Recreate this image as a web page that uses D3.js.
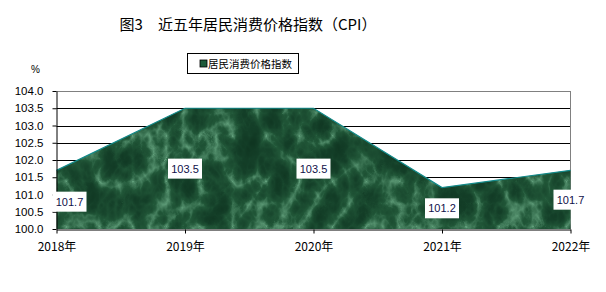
<!DOCTYPE html>
<html>
<head>
<meta charset="utf-8">
<script src="https://cdn.jsdelivr.net/npm/d3@7"></script>
<style>
  body { margin: 0; background: #fff; }
  svg { display: block; }
</style>
</head>
<body>
<svg id="chart" width="606" height="292"></svg>
<script>
// chart data
const years = ['2018年', '2019年', '2020年', '2021年', '2022年'];
const cpi = [101.7, 103.5, 103.5, 101.2, 101.7];
const yTicks = [100.0, 100.5, 101.0, 101.5, 102.0, 102.5, 103.0, 103.5, 104.0];
const titleText = '图3\u3000近五年居民消费价格指数（CPI）';
const seriesName = '居民消费价格指数';

const svg = d3.select('#chart');
const cjk = "'Noto Sans CJK SC', sans-serif";
const num = "'Liberation Sans', Arial, sans-serif";

const plotL = 56.5, plotR = 570.5, plotT = 91, plotB = 229;

const x = d3.scalePoint().domain(years).range([plotL, plotR]);
const y = d3.scaleLinear().domain([100, 104]).range([plotB, plotT]);

// marble texture for the area: dark green with light veins
const defs = svg.append('defs');
const f = defs.append('filter').attr('id', 'marble')
    .attr('color-interpolation-filters', 'sRGB')
    .attr('x', 0).attr('y', 0).attr('width', 1).attr('height', 1);
f.append('feTurbulence')
    .attr('type', 'turbulence')
    .attr('baseFrequency', '0.03 0.022')
    .attr('numOctaves', 4)
    .attr('seed', 7)
    .attr('result', 'noise');
f.append('feColorMatrix')
    .attr('in', 'noise')
    .attr('type', 'matrix')
    .attr('values',
        '1 0 0 0 0 ' +
        '1 0 0 0 0 ' +
        '1 0 0 0 0 ' +
        '0 0 0 0 1')
    .attr('result', 'gray');
const ct = f.append('feComponentTransfer').attr('in', 'gray').attr('result', 'col');
ct.append('feFuncR').attr('type', 'table').attr('tableValues', '0.38 0.13 0.08 0.06 0.05');
ct.append('feFuncG').attr('type', 'table').attr('tableValues', '0.62 0.34 0.25 0.21 0.19');
ct.append('feFuncB').attr('type', 'table').attr('tableValues', '0.48 0.22 0.16 0.13 0.12');
f.append('feComposite').attr('in', 'col').attr('in2', 'SourceGraphic').attr('operator', 'in');

// title
svg.append('text')
    .attr('x', 248).attr('y', 30)
    .attr('text-anchor', 'middle')
    .style('font-family', cjk)
    .style('font-size', '15px')
    .text(titleText);

// legend
const lg = svg.append('g');
lg.append('rect').attr('x', 187.5).attr('y', 53.5).attr('width', 111).attr('height', 20)
    .attr('fill', '#fff').attr('stroke', '#000');
lg.append('rect').attr('x', 200).attr('y', 60).attr('width', 7).attr('height', 7)
    .attr('fill', '#1d5a3a').attr('stroke', '#000').attr('stroke-width', 0.8);
lg.append('text').attr('x', 208).attr('y', 68)
    .style('font-family', cjk).style('font-size', '10.5px')
    .text(seriesName);

// unit
svg.append('text').attr('x', 31).attr('y', 73)
    .style('font-family', num).style('font-size', '10px').text('%');

// gridlines
svg.append('g').selectAll('line')
    .data(yTicks.slice(1))
    .enter().append('line')
    .attr('x1', plotL).attr('x2', plotR)
    .attr('y1', d => Math.round(y(d)) + 0.5)
    .attr('y2', d => Math.round(y(d)) + 0.5)
    .attr('stroke', d => d === 104 ? '#808080' : '#000')
    .attr('stroke-width', 1);

// right border
svg.append('line')
    .attr('x1', plotR).attr('x2', plotR).attr('y1', plotT).attr('y2', plotB)
    .attr('stroke', '#808080');

// area
const area = d3.area()
    .x((d, i) => x(years[i]))
    .y0(y(100))
    .y1(d => y(d));
svg.append('path')
    .datum(cpi)
    .attr('d', area)
    .attr('fill', '#1d5a3a')
    .attr('filter', 'url(#marble)');
svg.append('path')
    .datum(cpi)
    .attr('d', d3.line().x((d, i) => x(years[i])).y(d => y(d)))
    .attr('fill', 'none')
    .attr('stroke', '#138a8a')
    .attr('stroke-width', 1.2);

// y axis
const yAxis = svg.append('g')
    .attr('transform', `translate(${plotL},0)`)
    .call(d3.axisLeft(y).tickValues(yTicks).tickFormat(d3.format('.1f')).tickSize(4).tickSizeOuter(0));
yAxis.select('.domain').attr('stroke', '#000');
yAxis.selectAll('line').attr('stroke', '#000');
yAxis.selectAll('text')
    .style('font-family', num).style('font-size', '11.5px').attr('fill', '#000').attr('x', -13);

// x axis
const xAxis = svg.append('g')
    .attr('transform', `translate(0,${plotB + 0.5})`)
    .call(d3.axisBottom(x).tickSize(4).tickSizeOuter(0));
xAxis.select('.domain').attr('stroke', '#000');
xAxis.selectAll('line').attr('stroke', '#000');
xAxis.selectAll('text')
    .style('font-family', cjk).style('font-size', '12px').attr('fill', '#000').attr('dy', '1.2em');

// data labels
const lbl = svg.append('g').selectAll('g')
    .data(cpi)
    .enter().append('g')
    .attr('transform', (d, i) => {
        let cx = x(years[i]);
        let cy = (y(d) + y(100)) / 2;
        if (i === 0) { cx += 13; cy += 2; }
        return `translate(${cx},${cy})`;
    });
lbl.append('rect')
    .attr('x', -17).attr('y', -10).attr('width', 34).attr('height', 20)
    .attr('fill', '#fff');
lbl.append('text')
    .attr('text-anchor', 'middle')
    .attr('dy', '0.36em')
    .style('font-family', num).style('font-size', '11px')
    .attr('fill', '#10104a')
    .text(d => d.toFixed(1));
</script>
</body>
</html>
